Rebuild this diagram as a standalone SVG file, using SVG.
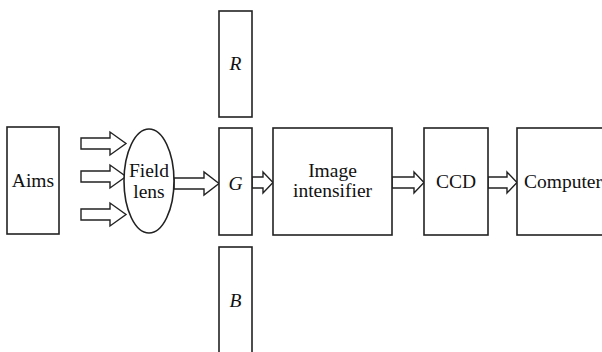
<svg xmlns="http://www.w3.org/2000/svg" width="602" height="352" viewBox="0 0 602 352">
  <style>
    .box { fill: #fff; stroke: #222; stroke-width: 1.6; }
    .arr { fill: #fff; stroke: #222; stroke-width: 1.4; stroke-linejoin: miter; }
    .t { font-family: "Liberation Serif", "Times New Roman", serif; font-size: 19.5px; fill: #111; text-anchor: middle; }
    .i { font-style: italic; }
  </style>
  <rect width="602" height="352" fill="#fff"/>

  <!-- block arrows -->
  <g id="connectors">
    <polygon class="arr" points="81,138 110,138 110,132 126,143.5 110,155 110,149 81,149"/>
    <polygon class="arr" points="81,171 110,171 110,165 126,176.5 110,188 110,182 81,182"/>
    <polygon class="arr" points="81,209 110,209 110,203 126,214.5 110,226 110,220 81,220"/>
    <polygon class="arr" points="174,178 204,178 204,172 219,183.5 204,195 204,189 174,189"/>
    <polygon class="arr" points="252,177 263,177 263,172 273,182.5 263,193 263,188 252,188"/>
    <polygon class="arr" points="392,177 414,177 414,172 424,182.5 414,193 414,188 392,188"/>
    <polygon class="arr" points="488,177 507,177 507,172 517,182.5 507,193 507,188 488,188"/>
  </g>

  <g id="aims">
    <rect class="box" x="7" y="127" width="52" height="107"/>
    <text class="t" x="33" y="187">Aims</text>
  </g>

  <g id="field-lens">
    <ellipse class="box" cx="149" cy="181" rx="25" ry="52"/>
    <text class="t" x="149" y="177">Field</text>
    <text class="t" x="149" y="198">lens</text>
  </g>

  <g id="filter-r">
    <rect class="box" x="219" y="11" width="33" height="106"/>
    <text class="t i" x="235.5" y="70">R</text>
  </g>

  <g id="filter-g">
    <rect class="box" x="219" y="128" width="33" height="107"/>
    <text class="t i" x="235.5" y="190">G</text>
  </g>

  <g id="filter-b">
    <rect class="box" x="219" y="247" width="33" height="110"/>
    <text class="t i" x="235.5" y="307">B</text>
  </g>

  <g id="image-intensifier">
    <rect class="box" x="273" y="128" width="119" height="107"/>
    <text class="t" x="332.5" y="177">Image</text>
    <text class="t" x="332.5" y="197">intensifier</text>
  </g>

  <g id="ccd">
    <rect class="box" x="424" y="128" width="64" height="107"/>
    <text class="t" x="456" y="188">CCD</text>
  </g>

  <g id="computer">
    <rect class="box" x="517" y="128" width="90" height="107"/>
    <text class="t" x="563" y="188">Computer</text>
  </g>
</svg>
